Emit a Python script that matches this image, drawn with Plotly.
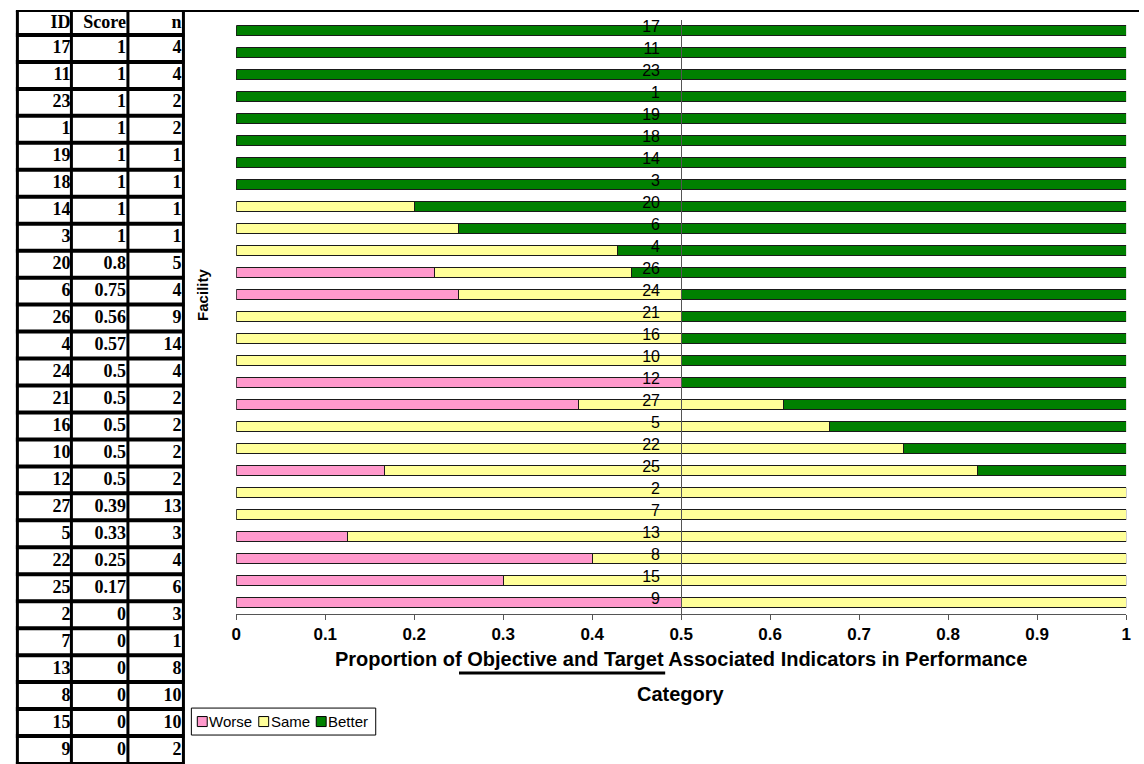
import plotly.graph_objects as go

# ---- facility performance data (bar order, top to bottom) ----
facility = ["17", "11", "23", "1", "19", "18", "14", "3", "20", "6", "4", "26", "24",
            "21", "16", "10", "12", "27", "5", "22", "25", "2", "7", "13", "8", "15", "9"]
worse_n = [0, 0, 0, 0, 0, 0, 0, 0, 0, 0, 0, 2, 1, 0, 0, 0, 1, 5, 0, 0, 1, 0, 0, 1, 4, 3, 1]
same_n = [0, 0, 0, 0, 0, 0, 0, 0, 1, 1, 6, 2, 1, 1, 1, 1, 0, 3, 2, 3, 4, 3, 1, 7, 6, 7, 1]
better_n = [4, 4, 2, 2, 1, 1, 1, 1, 4, 3, 8, 5, 2, 1, 1, 1, 1, 5, 1, 1, 1, 0, 0, 0, 0, 0, 0]

# ---- side table ----
table_header = ["ID", "Score", "n"]
table_id = ["17", "11", "23", "1", "19", "18", "14", "3", "20", "6", "26", "4", "24",
            "21", "16", "10", "12", "27", "5", "22", "25", "2", "7", "13", "8", "15", "9"]
table_score = ["1", "1", "1", "1", "1", "1", "1", "1", "0.8", "0.75", "0.56", "0.57", "0.5",
               "0.5", "0.5", "0.5", "0.5", "0.39", "0.33", "0.25", "0.17", "0", "0", "0", "0", "0", "0"]
table_n = ["4", "4", "2", "2", "1", "1", "1", "1", "5", "4", "9", "14", "4",
           "2", "2", "2", "2", "13", "3", "4", "6", "3", "1", "8", "10", "10", "2"]

x_ticks = [0, 0.1, 0.2, 0.3, 0.4, 0.5, 0.6, 0.7, 0.8, 0.9, 1]

series = [
    ("Worse", worse_n, "#FF99CC"),
    ("Same", same_n, "#FFFF99"),
    ("Better", better_n, "#008000"),
]

W, H = 1144, 764
SANS = "Arial, Liberation Sans, sans-serif"
SERIF = "Times New Roman, Liberation Serif, serif"

totals = [w + s + b for w, s, b in zip(worse_n, same_n, better_n)]

# plot area in pixels
PX0, PX1 = 233.3, 1131.0
PY_TOP, PY_BOT = 18.7, 613.5
xdom = [PX0 / W, PX1 / W]
ydom = [(H - PY_BOT) / H, (H - PY_TOP) / H]

fig = go.Figure()

for name, counts, color in series:
    fig.add_trace(go.Bar(
        y=facility,
        x=[c / t for c, t in zip(counts, totals)],
        orientation="h",
        name=name,
        marker=dict(color=color, line=dict(color="#1a1a1a", width=1)),
        showlegend=False,
        hoverinfo="skip",
    ))

# table text on a pixel-space overlay axis (x2/y2)
TAB_TOP = 10
HEAD_BOT = 34
ROW_H = (763 - HEAD_BOT) / len(table_id)
col_right = [67, 124, 180]
col_text_x = [66, 122, 178]

def row_center(i):
    return HEAD_BOT + ROW_H * i + ROW_H / 2

for ci, col in enumerate([table_id, table_score, table_n]):
    fig.add_trace(go.Scatter(
        x=[col_text_x[ci]] * (len(col) + 1),
        y=[(TAB_TOP + HEAD_BOT) / 2 + 1] + [row_center(i) + 0.5 for i in range(len(col))],
        text=[table_header[ci]] + col,
        mode="text",
        textposition="middle left",
        textfont=dict(family=SERIF, size=18, color="black", weight="bold"),
        xaxis="x2", yaxis="y2",
        showlegend=False, hoverinfo="skip", cliponaxis=False,
    ))

shapes = []

def line(x0, y0, x1, y1, width=1, color="black"):
    shapes.append(dict(type="line", xref="x2", yref="y2", x0=x0, y0=y0, x1=x1, y1=y1,
                       line=dict(color=color, width=width)))

# table grid
line(11, TAB_TOP, 181, TAB_TOP, 2)
for i in range(len(table_id)):
    line(11, HEAD_BOT + ROW_H * i, 181, HEAD_BOT + ROW_H * i, 4)
line(11, 763, 181, 763, 2)
line(12.5, TAB_TOP, 12.5, 764, 3)
for xr in col_right:
    line(xr, TAB_TOP, xr, 764, 3)

# chart frame
line(180, TAB_TOP, W, TAB_TOP, 2)

# underline in the axis title
line(458, 673, 666, 673, 3)

# legend box and swatches
LEG_Y0, LEG_Y1 = 708, 735
shapes.append(dict(type="rect", xref="x2", yref="y2", x0=188, x1=374, y0=LEG_Y0, y1=LEG_Y1,
                   line=dict(color="black", width=1), fillcolor="white"))
legend_x = [194, 256, 314]
annotations = []
for (name, _, color), lx in zip(series, legend_x):
    shapes.append(dict(type="rect", xref="x2", yref="y2", x0=lx, x1=lx + 10,
                       y0=(LEG_Y0 + LEG_Y1) / 2 - 5, y1=(LEG_Y0 + LEG_Y1) / 2 + 5,
                       line=dict(color="black", width=1), fillcolor=color))
    annotations.append(dict(xref="x2", yref="y2", x=lx + 10, y=(LEG_Y0 + LEG_Y1) / 2,
                            text=name, showarrow=False, xanchor="left", yanchor="middle",
                            font=dict(family=SANS, size=15, color="black")))

# axis titles
annotations.append(dict(xref="x2", yref="y2", x=199, y=294, text="<b>Facility</b>",
                        textangle=-90, showarrow=False,
                        font=dict(family=SANS, size=15, color="black")))
annotations.append(dict(xref="x2", yref="y2", x=(PX0 + PX1) / 2, y=659,
                        text="<b>Proportion of Objective and Target Associated Indicators in Performance</b>",
                        showarrow=False, font=dict(family=SANS, size=20, color="black")))
annotations.append(dict(xref="x2", yref="y2", x=(PX0 + PX1) / 2, y=694,
                        text="<b>Category</b>", showarrow=False,
                        font=dict(family=SANS, size=20, color="black")))

fig.update_layout(
    width=W, height=H, autosize=False,
    margin=dict(l=0, r=0, t=0, b=0, pad=0),
    paper_bgcolor="white", plot_bgcolor="rgba(0,0,0,0)",
    barmode="stack", bargap=0.55,
    xaxis=dict(domain=xdom, range=[0, 1], tickvals=x_ticks, ticks="outside", ticklen=5,
               tickcolor="#555", showline=True, linecolor="#555", linewidth=1,
               showgrid=False, zeroline=False, ticklabelstandoff=0,
               tickfont=dict(family=SANS, size=17, color="black", weight="bold"),
               anchor="y", fixedrange=True),
    yaxis=dict(domain=ydom, type="category", categoryorder="array", categoryarray=facility,
               autorange="reversed", anchor="free",
               position=xdom[0] + 0.5 * (xdom[1] - xdom[0]),
               showline=True, linecolor="#555", linewidth=1, ticks="",
               showgrid=False, zeroline=False, ticklabelstandoff=18, ticklabelshift=4,
               tickfont=dict(family=SANS, size=16, color="black"), fixedrange=True),
    xaxis2=dict(domain=[0, 1], range=[0, W], visible=False, anchor="y2", fixedrange=True),
    yaxis2=dict(domain=[0, 1], range=[H, 0], visible=False, anchor="x2", fixedrange=True),
    shapes=shapes,
    annotations=annotations,
)

fig.write_html("out.html")
